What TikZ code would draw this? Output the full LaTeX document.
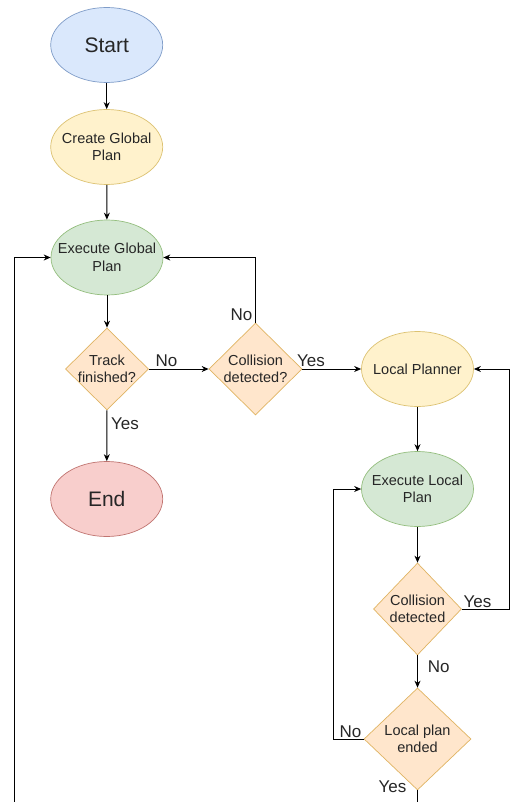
\documentclass[tikz,border=0pt]{standalone}
\usepackage{fontspec}
\setmainfont{Liberation Sans}
\usetikzlibrary{shapes.geometric,arrows.meta}
\definecolor{blueF}{HTML}{DAE8FC}\definecolor{blueD}{HTML}{7F9CC8}
\definecolor{yelF}{HTML}{FFF2CC}\definecolor{yelD}{HTML}{DCC272}
\definecolor{grnF}{HTML}{D5E8D4}\definecolor{grnD}{HTML}{94BE7E}
\definecolor{orgF}{HTML}{FFE6CC}\definecolor{orgD}{HTML}{E0B462}
\definecolor{redF}{HTML}{F8CECC}\definecolor{redD}{HTML}{C07470}
\definecolor{txt}{HTML}{262626}
\begin{document}
\begin{tikzpicture}[x=1pt,y=-1pt,
  box/.style={draw, line width=0.7pt, inner sep=0pt},
  oval/.style={box, ellipse, minimum width=112pt, minimum height=75pt},
  dia/.style={box, diamond, fill=orgF, draw=orgD},
  intext/.style={label={[align=center,font=\fontsize{14.5}{17.5}\selectfont,text=txt,inner sep=0pt]center:#1}},
  bigtext/.style={label={[font=\fontsize{21}{24}\selectfont,text=txt,inner sep=0pt]center:#1}},
  conn/.style={draw=black, line width=0.9pt, -{Stealth[length=7pt,width=6pt]}},
  lbl/.style={font=\fontsize{17}{20}\selectfont, text=txt, inner sep=0pt, anchor=base west}]
\path[use as bounding box, clip] (0,0) rectangle (510,802);
\fill[white] (0,0) rectangle (510,802);

\node[oval, fill=blueF, draw=blueD, bigtext={Start}] (start) at (106.7,45) {};
\node[oval, fill=yelF, draw=yelD, intext={Create Global\\Plan}] (create) at (106.7,147) {};
\node[oval, fill=grnF, draw=grnD, intext={Execute Global\\Plan}] (execg) at (107,257.5) {};
\node[dia, minimum width=83pt, minimum height=82pt, intext={Track\\finished?}] (track) at (107,369) {};
\node[dia, minimum width=93pt, minimum height=92pt, intext={Collision\\detected?}] (coll) at (255.5,369) {};
\node[oval, fill=redF, draw=redD, bigtext={End}] (end) at (106.7,499) {};
\node[oval, fill=yelF, draw=yelD, intext={Local Planner}] (localp) at (417.5,369) {};
\node[oval, fill=grnF, draw=grnD, intext={Execute Local\\Plan}] (execl) at (417.5,489) {};
\node[dia, minimum width=88pt, minimum height=92pt, intext={Collision\\detected}] (coll2) at (417.5,609) {};
\node[dia, minimum width=107pt, minimum height=102pt, intext={Local plan\\ended}] (ended) at (417.5,739) {};

\coordinate (rightx) at (509.3,609);
\coordinate (leftx) at (333.3,739);
\coordinate (bot) at (417.5,815);
\coordinate (farleft) at (14,815);

\draw[conn] (start) -- (create);
\draw[conn] (create) -- (execg);
\draw[conn] (execg) -- (track);
\draw[conn] (track) -- (coll);
\draw[conn] (track) -- (end);
\draw[conn] (coll.north) |- (execg.east);
\draw[conn] (coll) -- (localp);
\draw[conn] (localp) -- (execl);
\draw[conn] (execl) -- (coll2);
\draw[conn] (coll2) -- (ended);
\draw[conn] (coll2.east) -- (rightx) |- (localp.east);
\draw[conn] (ended.west) -- (leftx) |- (execl.west);
\draw[conn] (ended.south) -- (bot) -- (farleft) |- (execg.west);

\node[lbl] (l1) at (155.5,366.7) {No};
\node[lbl] (l2) at (297,366.7) {Yes};
\node[lbl, anchor=base east] (l3) at (252.5,320.7) {No};
\node[lbl] (l4) at (111,429.5) {Yes};
\node[lbl] (l5) at (463.3,607.3) {Yes};
\node[lbl] (l6) at (427.7,672.3) {No};
\node[lbl] (l7) at (339.3,737.3) {No};
\node[lbl] (l8) at (378.3,792) {Yes};
\end{tikzpicture}
\end{document}
